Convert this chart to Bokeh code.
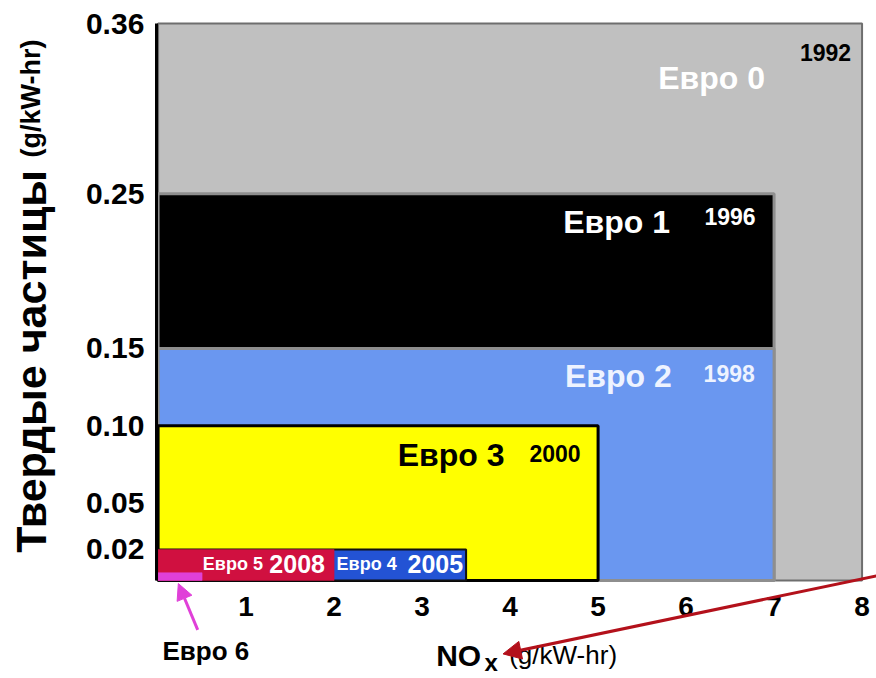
import math
from bokeh.plotting import figure
from bokeh.models import ColumnDataSource, Label, Arrow, NormalHead, FixedTicker, Range1d, NumeralTickFormatter
from bokeh.embed import file_html
from bokeh.resources import INLINE

# Euro emission stages for heavy-duty engines
stages = ["Евро 0", "Евро 1", "Евро 2", "Евро 3", "Евро 4", "Евро 5", "Евро 6"]
years = ["1992", "1996", "1998", "2000", "2005", "2008", ""]
nox_limit = [8.0, 7.0, 7.0, 5.0, 3.5, 2.0, 0.5]          # g/kW-hr
pm_limit = [0.36, 0.25, 0.15, 0.10, 0.02, 0.02, 0.005]   # g/kW-hr
x_ticks = [1, 2, 3, 4, 5, 6, 7, 8]
y_ticks = [0.02, 0.05, 0.10, 0.15, 0.25, 0.36]

# styling per stage
fills = ["#c0c0c0", "#000000", "#6a97f0", "#ffff00", "#2353d4", "#d01040", "#e040d8"]
borders = ["#6e6e6e", "#8e8e8e", "#8e8e8e", "#000000", "#111111", "#d01040", "#e040d8"]
border_w = [2, 3, 3, 3, 2, 0.5, 0.5]

FONT = "Liberation Sans"

# the frame spans the whole canvas; axes are pinned at zero so titles and
# pointers placed around the boxes stay visible
p = figure(width=876, height=678, output_backend="svg", toolbar_location=None,
           x_range=Range1d(-1.791, 8.164), y_range=Range1d(-0.0634, 0.3749),
           min_border=0)
p.outline_line_color = None
p.xgrid.visible = False
p.ygrid.visible = False
p.background_fill_color = "white"
p.border_fill_color = "white"

src = ColumnDataSource(dict(left=[0.0] * len(stages), right=nox_limit, bottom=[0.0] * len(stages),
                            top=pm_limit, fill=fills, line=borders, lw=border_w))
p.quad(left="left", right="right", bottom="bottom", top="top", source=src,
       fill_color="fill", line_color="line", line_width="lw")

# axes
p.yaxis.fixed_location = -0.02
p.yaxis.bounds = (0, 0.36)
p.yaxis.ticker = FixedTicker(ticks=y_ticks)
p.yaxis.formatter = NumeralTickFormatter(format="0.00")
p.yaxis.major_label_text_font = FONT
p.yaxis.major_label_text_font_style = "bold"
p.yaxis.major_label_text_font_size = "30px"
p.yaxis.major_label_text_color = "black"
p.yaxis.major_label_standoff = 6
p.yaxis.axis_line_color = "black"
p.yaxis.axis_line_width = 3
p.yaxis.major_tick_line_color = None
p.yaxis.minor_tick_line_color = None

p.xaxis.fixed_location = 0
p.xaxis.bounds = (0, 8)
p.xaxis.ticker = FixedTicker(ticks=x_ticks)
p.xaxis.major_label_text_font = FONT
p.xaxis.major_label_text_font_style = "bold"
p.xaxis.major_label_text_font_size = "28px"
p.xaxis.major_label_text_color = "black"
p.xaxis.major_label_standoff = 11
p.xaxis.axis_line_color = None
p.xaxis.major_tick_line_color = None
p.xaxis.minor_tick_line_color = None


def label(x, y, text, size, color="black", bold=True, angle=0.0, align="center"):
    p.add_layout(Label(x=x, y=y, text=text, text_font=FONT, text_font_size=size,
                       text_font_style="bold" if bold else "normal", text_color=color,
                       text_align=align, text_baseline="middle", angle=angle))


# stage names and introduction years inside the boxes
name_pos = [(6.29, 0.3245), (5.21, 0.232), (5.23, 0.132), (3.33, 0.081), (2.37, 0.0105), (0.85, 0.0105)]
year_pos = [(7.585, 0.3413), (6.50, 0.235), (6.49, 0.134), (4.51, 0.082), (3.15, 0.0105), (1.58, 0.0105)]
name_col = ["white", "white", "#eef3ff", "black", "white", "white"]
year_col = ["black", "white", "#eef3ff", "black", "white", "white"]
name_size = ["32px", "32px", "32px", "32px", "18px", "18px"]
year_size = ["23px", "23px", "23px", "23px", "25px", "25px"]
for i in range(6):
    label(name_pos[i][0], name_pos[i][1], stages[i], name_size[i], name_col[i])
    label(year_pos[i][0], year_pos[i][1], years[i], year_size[i], year_col[i])

# axis titles
label(-1.45, 0.1416, "Твердые частицы", "43px", angle=math.pi / 2)
label(-1.45, 0.3116, "(g/kW-hr)", "27px", angle=math.pi / 2)
label(3.16, -0.0485, "NO", "30px", align="left")
label(3.71, -0.0528, "x", "24px", align="left")
label(3.99, -0.0485, "(g/kW-hr)", "26px", bold=False, align="left")
label(0.05, -0.0455, stages[6], "26px", align="left")

# pointers
p.add_layout(Arrow(end=NormalHead(size=16, fill_color="#e040d8", line_color="#e040d8"),
                   x_start=0.45, y_start=-0.032, x_end=0.23, y_end=-0.002,
                   line_color="#e040d8", line_width=3))
p.add_layout(Arrow(end=NormalHead(size=18, fill_color="#b3111b", line_color="#b3111b"),
                   x_start=8.25, y_start=0.004, x_end=3.92, y_end=-0.0475,
                   line_color="#b3111b", line_width=3))

open("out.html", "w").write(file_html(p, INLINE))
